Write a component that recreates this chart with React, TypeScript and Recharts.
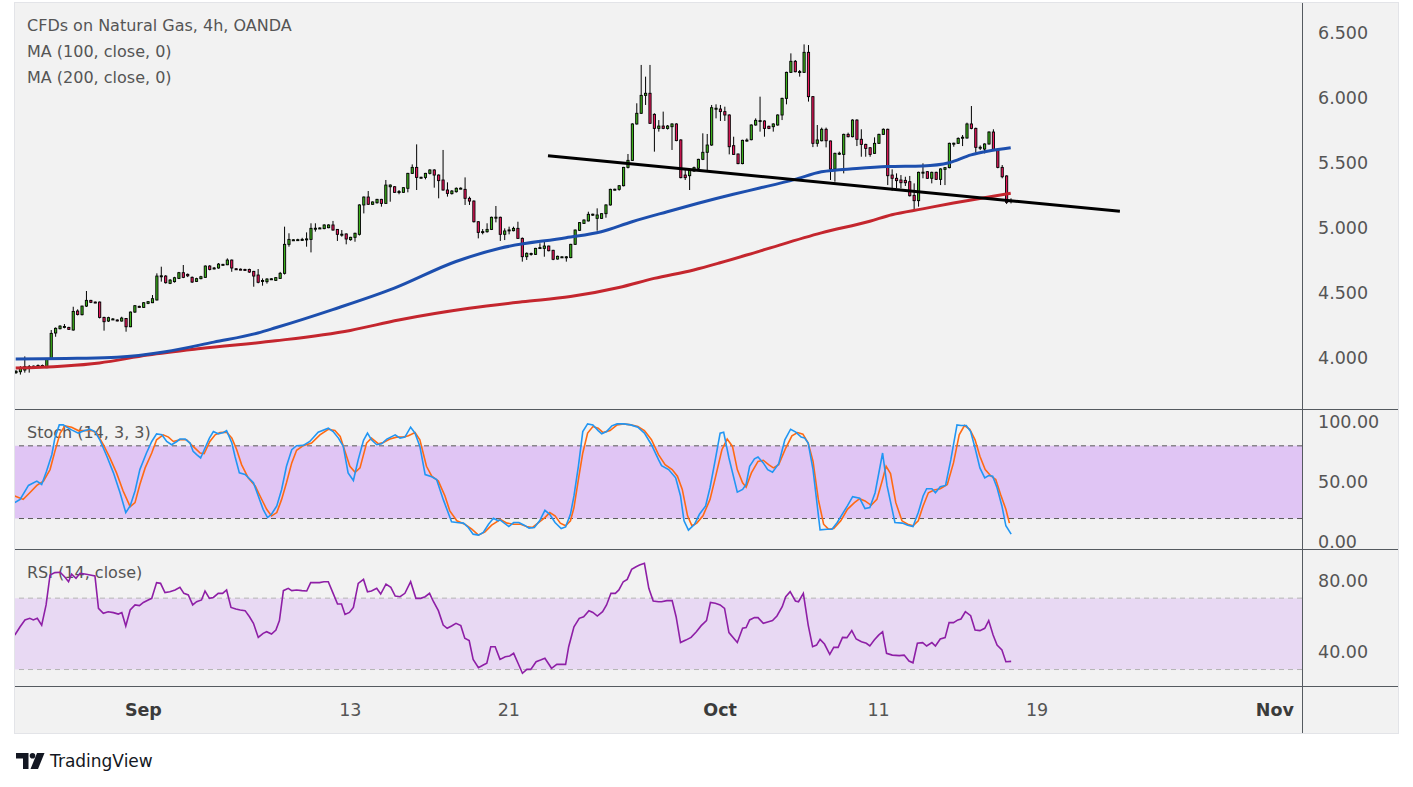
import React from 'react';
import { ComposedChart, Bar, Line, XAxis, YAxis, ReferenceLine, ReferenceArea } from 'recharts';

const X_MIN = 0.84;
const X_MAX = 293.16;
const PRICE_DOMAIN: [number, number] = [3.6054, 6.7285];
const STOCH_DOMAIN: [number, number] = [-5.16, 110.41];
const RSI_DOMAIN: [number, number] = [20.78, 97.54];

const priceTicks = [4, 4.5, 5, 5.5, 6, 6.5];
const stochTicks = [0, 50, 100];
const rsiTicks = [40, 80];
const dateTickIdx = [30, 77, 113, 161, 197, 233, 287];
const dateTickLabels = ['Sep', '13', '21', 'Oct', '11', '19', 'Nov'];
const monthLabels = ['Sep', 'Oct', 'Nov'];

const opens = [
  3.885, 3.892, 3.905, 3.928, 3.93, 3.933, 3.94, 3.923, 3.987, 4.19,
  4.223, 4.238, 4.233, 4.213, 4.359, 4.331, 4.397, 4.441, 4.428, 4.428,
  4.31, 4.282, 4.295, 4.29, 4.282, 4.302, 4.238, 4.351, 4.395, 4.387,
  4.418, 4.423, 4.444, 4.628, 4.628, 4.572, 4.585, 4.61, 4.654, 4.641,
  4.618, 4.587, 4.608, 4.618, 4.705, 4.688, 4.69, 4.716, 4.715, 4.751,
  4.684, 4.681, 4.679, 4.679, 4.664, 4.636, 4.592, 4.585, 4.603, 4.595,
  4.61, 4.649, 4.872, 4.903, 4.906, 4.908, 4.913, 4.91, 4.995, 4.996,
  4.993, 5.0, 5.021, 4.987, 4.949, 4.952, 4.908, 4.926, 4.949, 5.175,
  5.236, 5.18, 5.192, 5.218, 5.187, 5.315, 5.315, 5.276, 5.272, 5.303,
  5.418, 5.464, 5.386, 5.387, 5.418, 5.444, 5.405, 5.367, 5.29, 5.262,
  5.277, 5.302, 5.295, 5.226, 5.205, 5.046, 4.968, 4.969, 4.987, 5.079,
  5.08, 4.949, 4.981, 4.977, 4.995, 4.918, 4.777, 4.8, 4.795, 4.845,
  4.841, 4.859, 4.826, 4.759, 4.774, 4.775, 4.77, 4.872, 4.98, 5.033,
  5.052, 5.102, 5.072, 5.072, 5.108, 5.175, 5.294, 5.295, 5.323, 5.464,
  5.518, 5.798, 5.88, 6.018, 6.034, 5.872, 5.764, 5.782, 5.764, 5.777,
  5.798, 5.675, 5.405, 5.4, 5.436, 5.457, 5.526, 5.58, 5.636, 5.917,
  5.913, 5.893, 5.867, 5.631, 5.567, 5.493, 5.67, 5.677, 5.79, 5.822,
  5.821, 5.78, 5.777, 5.79, 5.867, 5.995, 6.195, 6.28, 6.199, 6.195,
  6.349, 6.008, 5.649, 5.669, 5.757, 5.667, 5.451, 5.571, 5.564, 5.718,
  5.7, 5.828, 5.68, 5.641, 5.615, 5.572, 5.649, 5.718, 5.757, 5.405,
  5.38, 5.367, 5.364, 5.354, 5.249, 5.208, 5.425, 5.431, 5.38, 5.426,
  5.372, 5.449, 5.462, 5.648, 5.649, 5.694, 5.69, 5.798, 5.764, 5.617,
  5.605, 5.644, 5.736, 5.598, 5.464, 5.398, 5.206,
];
const highs = [
  3.905, 3.935, 4.01, 3.944, 3.94, 3.948, 3.947, 3.99, 4.213, 4.233,
  4.25, 4.259, 4.238, 4.392, 4.372, 4.40, 4.513, 4.445, 4.432, 4.432,
  4.315, 4.315, 4.305, 4.295, 4.315, 4.305, 4.355, 4.405, 4.40, 4.428,
  4.436, 4.482, 4.649, 4.70, 4.635, 4.605, 4.622, 4.66, 4.713, 4.648,
  4.625, 4.615, 4.63, 4.71, 4.712, 4.698, 4.728, 4.722, 4.764, 4.755,
  4.69, 4.686, 4.684, 4.685, 4.668, 4.682, 4.61, 4.612, 4.612, 4.62,
  4.66, 5.008, 4.957, 4.912, 4.915, 4.922, 4.964, 5.034, 5.034, 5.003,
  5.026, 5.026, 5.052, 4.99, 4.982, 4.956, 4.93, 4.962, 5.18, 5.24,
  5.282, 5.202, 5.222, 5.222, 5.367, 5.333, 5.32, 5.29, 5.312, 5.422,
  5.487, 5.641, 5.392, 5.422, 5.45, 5.45, 5.41, 5.598, 5.349, 5.29,
  5.31, 5.31, 5.387, 5.239, 5.21, 5.05, 4.99, 5.034, 5.085, 5.167,
  5.085, 4.995, 5.008, 5.008, 5.046, 4.925, 4.81, 4.808, 4.845, 4.88,
  4.905, 4.862, 4.83, 4.785, 4.78, 4.782, 4.876, 4.986, 5.043, 5.064,
  5.123, 5.108, 5.149, 5.112, 5.18, 5.3, 5.3, 5.328, 5.468, 5.567,
  5.803, 5.957, 6.252, 6.162, 6.252, 5.88, 5.828, 5.893, 5.79, 5.803,
  5.803, 5.68, 5.444, 5.45, 5.47, 5.53, 5.726, 5.721, 5.944, 5.949,
  5.944, 5.931, 5.872, 5.7, 5.57, 5.677, 5.687, 5.795, 5.841, 6.008,
  5.826, 5.785, 5.803, 5.872, 6.0, 6.2, 6.341, 6.29, 6.213, 6.41,
  6.405, 6.013, 5.79, 5.77, 5.77, 5.67, 5.577, 5.585, 5.723, 5.731,
  5.834, 5.834, 5.757, 5.646, 5.62, 5.695, 5.723, 5.764, 5.762, 5.449,
  5.418, 5.405, 5.392, 5.398, 5.341, 5.431, 5.495, 5.436, 5.431, 5.431,
  5.457, 5.467, 5.654, 5.654, 5.695, 5.713, 5.808, 5.936, 5.77, 5.633,
  5.649, 5.741, 5.757, 5.603, 5.482, 5.403, 5.226,
];
const lows = [
  3.875, 3.87, 3.885, 3.885, 3.925, 3.928, 3.928, 3.92, 3.985, 4.161,
  4.218, 4.226, 4.215, 4.208, 4.325, 4.325, 4.39, 4.42, 4.42, 4.302,
  4.208, 4.275, 4.29, 4.28, 4.278, 4.2, 4.235, 4.345, 4.385, 4.383,
  4.412, 4.42, 4.44, 4.585, 4.57, 4.566, 4.578, 4.605, 4.612, 4.62,
  4.575, 4.582, 4.603, 4.615, 4.672, 4.68, 4.685, 4.712, 4.712, 4.661,
  4.676, 4.674, 4.672, 4.652, 4.546, 4.572, 4.554, 4.57, 4.598, 4.59,
  4.606, 4.64, 4.854, 4.898, 4.9, 4.9, 4.854, 4.81, 4.97, 4.99,
  4.988, 4.996, 4.978, 4.898, 4.931, 4.872, 4.9, 4.892, 4.94, 5.11,
  5.175, 5.175, 5.185, 5.162, 5.185, 5.2, 5.268, 5.257, 5.268, 5.272,
  5.413, 5.29, 5.38, 5.372, 5.41, 5.308, 5.226, 5.285, 5.239, 5.255,
  5.27, 5.296, 5.175, 5.175, 5.04, 4.918, 4.949, 4.962, 4.982, 5.041,
  4.898, 4.905, 4.949, 4.972, 4.915, 4.739, 4.752, 4.785, 4.79, 4.84,
  4.777, 4.818, 4.75, 4.755, 4.77, 4.739, 4.765, 4.868, 4.975, 5.03,
  5.048, 5.09, 4.977, 5.068, 5.077, 5.17, 5.288, 5.285, 5.318, 5.456,
  5.513, 5.793, 5.875, 5.944, 5.798, 5.585, 5.739, 5.758, 5.755, 5.598,
  5.665, 5.38, 5.367, 5.29, 5.43, 5.452, 5.52, 5.444, 5.63, 5.841,
  5.821, 5.821, 5.564, 5.56, 5.488, 5.488, 5.662, 5.672, 5.785, 5.739,
  5.7, 5.758, 5.739, 5.785, 5.828, 5.949, 6.19, 6.195, 6.162, 6.19,
  5.97, 5.62, 5.623, 5.664, 5.618, 5.367, 5.354, 5.559, 5.418, 5.695,
  5.695, 5.628, 5.546, 5.546, 5.546, 5.567, 5.644, 5.713, 5.328, 5.285,
  5.303, 5.303, 5.321, 5.24, 5.136, 5.162, 5.38, 5.375, 5.341, 5.367,
  5.328, 5.328, 5.457, 5.623, 5.644, 5.628, 5.685, 5.757, 5.577, 5.597,
  5.572, 5.639, 5.598, 5.457, 5.38, 5.182, 5.187,
];
const closes = [
  3.895, 3.918, 3.931, 3.932, 3.935, 3.94, 3.935, 3.987, 4.187, 4.226,
  4.243, 4.24, 4.218, 4.356, 4.333, 4.397, 4.441, 4.426, 4.425, 4.31,
  4.277, 4.308, 4.298, 4.288, 4.305, 4.238, 4.351, 4.4, 4.39, 4.423,
  4.431, 4.454, 4.628, 4.63, 4.577, 4.597, 4.615, 4.654, 4.618, 4.63,
  4.582, 4.608, 4.623, 4.705, 4.679, 4.69, 4.72, 4.718, 4.751, 4.69,
  4.682, 4.679, 4.676, 4.659, 4.628, 4.58, 4.594, 4.605, 4.607, 4.616,
  4.649, 4.872, 4.91, 4.907, 4.908, 4.91, 4.914, 4.995, 4.996, 4.998,
  5.021, 5.021, 4.982, 4.949, 4.95, 4.913, 4.926, 4.957, 5.175, 5.236,
  5.18, 5.198, 5.218, 5.187, 5.328, 5.328, 5.272, 5.278, 5.308, 5.418,
  5.464, 5.387, 5.388, 5.418, 5.444, 5.405, 5.362, 5.29, 5.264, 5.282,
  5.303, 5.304, 5.226, 5.205, 5.046, 4.964, 4.97, 4.987, 5.08, 5.081,
  4.949, 4.975, 4.983, 4.995, 4.918, 4.777, 4.803, 4.802, 4.841, 4.847,
  4.859, 4.823, 4.757, 4.78, 4.776, 4.776, 4.872, 4.982, 5.039, 5.059,
  5.103, 5.104, 5.098, 5.108, 5.175, 5.295, 5.296, 5.323, 5.464, 5.518,
  5.798, 5.88, 6.018, 6.034, 5.803, 5.764, 5.782, 5.764, 5.782, 5.798,
  5.67, 5.385, 5.385, 5.444, 5.462, 5.526, 5.58, 5.636, 5.923, 5.919,
  5.893, 5.867, 5.623, 5.564, 5.493, 5.672, 5.674, 5.79, 5.826, 5.824,
  5.764, 5.764, 5.798, 5.867, 5.995, 6.195, 6.28, 6.2, 6.201, 6.349,
  6.008, 5.649, 5.675, 5.757, 5.669, 5.451, 5.572, 5.573, 5.718, 5.7,
  5.828, 5.68, 5.641, 5.61, 5.564, 5.649, 5.718, 5.757, 5.4, 5.38,
  5.362, 5.346, 5.346, 5.246, 5.208, 5.426, 5.427, 5.38, 5.426, 5.372,
  5.452, 5.462, 5.649, 5.65, 5.687, 5.696, 5.798, 5.764, 5.618, 5.619,
  5.644, 5.736, 5.603, 5.464, 5.392, 5.195, 5.208,
];

const ma100: [number, number][] = [
  [1, 3.99], [15, 3.995], [24, 4.003], [35, 4.046], [46, 4.12], [56, 4.19], [60, 4.23],
  [73, 4.37], [87, 4.535], [101, 4.74], [111, 4.842], [126, 4.923], [134, 4.969],
  [141, 5.046], [149, 5.123], [156, 5.188], [164, 5.257], [170, 5.305], [178, 5.372],
  [184, 5.43], [192, 5.455], [199, 5.47], [207, 5.475], [213, 5.5], [218, 5.56],
  [222, 5.59], [227, 5.615],
];
const ma200: [number, number][] = [
  [1, 3.92], [20, 3.96], [31, 4.02], [43, 4.07], [60, 4.13], [77, 4.21], [88, 4.29],
  [104, 4.38], [116, 4.43], [127, 4.47], [138, 4.54], [146, 4.61], [155, 4.675],
  [161, 4.73], [170, 4.82], [184, 4.96], [195, 5.05], [200, 5.1], [207, 5.145],
  [214, 5.19], [220, 5.225], [227, 5.265],
];
const trendLine = [
  { x: 121.9, y: 5.554 },
  { x: 251.8, y: 5.126 },
];

const stochK: [number, number][] = [
  [0.8, 33.1], [2.0, 35.8], [3.9, 47.3], [5.8, 50.9], [6.9, 48.1], [8.0, 59.0], [9.2, 72.7], [9.9, 86.4],
  [10.9, 97.3], [11.8, 97.3], [12.6, 95.4], [13.7, 93.2], [15.2, 90.5], [16.7, 92.6], [17.9, 93.7],
  [19.0, 91.8], [20.1, 85.0], [21.7, 71.4], [23.2, 57.7], [24.7, 41.3], [26.0, 24.9], [27.0, 30.4],
  [28.1, 42.7], [29.2, 60.4], [30.7, 74.1], [31.9, 83.6], [33.0, 89.9], [34.2, 89.1], [35.3, 83.6],
  [36.4, 80.9], [37.6, 83.6], [38.3, 85.6], [39.5, 85.6], [40.6, 82.3], [41.3, 75.4], [42.1, 72.7],
  [43.0, 70.0], [44.0, 78.2], [45.0, 86.4], [45.9, 91.8], [47.0, 89.9], [48.2, 91.0], [48.9, 92.6],
  [50.1, 82.3], [50.8, 71.4], [51.8, 57.7], [53.1, 56.3], [55.0, 49.5], [56.1, 38.6], [57.2, 27.6],
  [58.2, 20.8], [59.1, 23.5], [60.3, 30.4], [61.4, 44.0], [62.5, 63.1], [63.7, 76.8], [64.8, 80.1],
  [66.3, 80.4], [67.8, 83.6], [69.7, 91.3], [72.0, 94.6], [73.1, 91.8], [74.3, 86.4], [75.4, 79.5],
  [76.5, 57.7], [77.7, 51.4], [78.8, 68.6], [80.0, 84.5], [80.9, 90.5], [81.8, 85.0], [83.0, 80.9],
  [84.1, 81.7], [85.3, 85.6], [87.2, 89.1], [88.3, 86.4], [89.4, 87.2], [90.7, 95.4], [91.7, 90.5],
  [92.8, 79.5], [94.0, 56.3], [95.5, 54.4], [96.6, 52.2], [98.1, 35.8], [100.0, 17.3], [101.2, 16.7],
  [102.7, 16.2], [103.8, 12.6], [104.9, 7.1], [106.1, 6.3], [107.2, 8.5], [108.4, 15.3], [109.5, 20.2],
  [110.6, 18.1],
  [111.0, 18.9], [113.0, 13.4], [114.1, 16.7], [115.3, 16.7], [116.5, 14.5], [117.6, 12.1], [118.8, 12.6],
  [120.0, 18.1], [121.2, 26.8], [122.3, 23.5], [123.5, 16.7], [124.9, 11.8], [125.9, 13.1], [127.0, 23.5],
  [127.8, 38.6], [128.8, 63.1], [129.8, 91.8], [130.9, 98.1], [132.1, 97.3], [133.3, 92.6], [134.1, 89.9],
  [135.2, 91.8], [136.4, 96.5], [137.6, 98.1], [139.1, 98.1], [140.7, 97.3], [142.3, 95.4], [143.8, 90.5],
  [145.4, 80.9], [147.0, 68.6], [147.7, 63.7], [149.3, 60.4], [150.9, 53.6], [152.0, 38.6], [152.8, 18.1],
  [153.8, 10.4], [155.2, 15.3], [156.3, 23.5], [157.7, 30.4], [158.7, 45.4], [159.9, 68.6], [161.0, 90.5],
  [161.8, 91.3], [163.0, 70.0], [164.9, 41.8], [166.1, 44.0], [166.9, 48.1], [167.7, 63.1], [168.8, 69.2],
  [169.6, 70.8], [170.8, 65.9], [171.8, 60.4], [172.9, 58.2], [174.3, 65.3], [175.7, 85.0], [177.0, 93.7],
  [178.2, 91.3], [179.4, 87.2], [180.2, 86.4], [181.0, 82.3], [182.1, 60.4], [183.7, 10.7], [185.3, 11.2],
  [186.4, 11.2], [187.6, 16.7], [189.2, 26.3], [189.9, 30.4], [191.1, 38.0], [192.7, 36.7], [193.9, 28.2],
  [195.0, 29.0], [196.2, 41.3], [197.9, 74.1], [198.9, 47.3], [200.7, 16.7], [202.4, 16.2], [203.6, 14.5],
  [204.8, 13.4], [206.0, 24.9], [207.1, 38.6], [207.9, 44.6], [209.1, 44.6], [209.9, 41.3], [211.0, 46.2],
  [212.2, 47.3], [213.4, 68.6], [214.8, 97.3], [215.7, 96.8], [216.9, 96.8], [217.9, 91.8], [218.9, 78.2],
  [220.0, 61.8], [221.1, 53.6], [222.0, 55.5], [222.9, 55.0], [223.9, 45.4], [225.0, 30.4], [225.9, 14.0],
  [227.1, 7.1],
];
const stochD: [number, number][] = [
  [0.8, 38.6], [2.7, 35.8], [4.2, 41.3], [5.8, 47.3], [7.3, 50.9], [8.8, 60.4], [9.9, 75.4], [11.1, 90.5],
  [12.2, 96.5], [13.7, 95.4], [15.2, 92.6], [16.7, 92.6], [18.3, 92.6], [19.4, 90.5], [20.9, 80.9],
  [22.4, 70.0], [23.9, 57.7], [25.4, 42.7], [27.0, 29.8], [28.1, 33.1], [29.2, 48.1], [30.4, 61.8],
  [31.9, 74.1], [33.0, 85.0], [34.5, 89.1], [35.7, 87.2], [36.8, 83.6], [38.3, 85.0], [39.8, 85.0],
  [41.3, 79.5], [42.9, 74.1], [43.8, 73.5], [45.1, 83.6], [46.3, 89.1], [47.4, 91.0], [48.9, 91.3],
  [50.1, 86.4], [51.2, 76.8], [52.3, 64.5], [53.8, 53.6], [55.4, 46.8], [56.5, 38.6], [58.0, 27.6],
  [59.1, 22.2], [60.3, 24.9], [61.4, 35.8], [62.5, 49.5], [63.7, 65.9], [64.8, 76.3], [66.3, 80.1],
  [68.2, 82.3], [70.1, 89.1], [72.0, 93.7], [73.5, 92.6], [74.7, 87.7], [75.8, 75.4], [76.9, 63.1],
  [78.1, 58.2], [79.2, 61.8], [80.7, 82.3], [81.8, 86.4], [83.4, 81.7], [84.5, 82.8], [86.0, 85.6],
  [87.5, 87.2], [89.0, 87.2], [90.2, 88.3], [91.7, 91.0], [92.8, 85.0], [94.3, 63.1], [95.5, 55.0],
  [97.0, 50.9], [98.5, 38.6], [99.6, 26.3], [101.2, 18.1], [103.0, 15.3], [104.6, 11.2], [106.1, 6.3],
  [107.6, 9.0], [109.1, 14.5], [110.6, 18.1],
  [111.0, 19.4], [112.6, 16.2], [114.1, 15.3], [115.7, 15.3], [117.3, 13.1], [118.4, 12.6], [119.6, 16.2],
  [121.2, 20.8], [122.3, 24.9], [123.5, 22.2], [124.7, 16.2], [125.9, 14.0], [127.0, 18.1], [127.8, 29.0],
  [128.8, 52.2], [129.8, 74.1], [130.9, 90.5], [132.1, 95.9], [133.3, 94.6], [134.4, 91.0], [136.0, 92.6],
  [137.6, 97.3], [139.1, 98.1], [140.7, 97.3], [142.3, 95.9], [143.8, 92.6], [145.4, 85.0], [147.0, 72.7],
  [148.5, 64.5], [150.1, 60.4], [151.3, 54.9], [152.4, 44.0], [153.6, 22.2], [154.6, 14.0], [155.7, 16.2],
  [157.1, 22.2], [158.7, 35.8], [159.9, 53.6], [161.4, 76.8], [162.6, 85.6], [163.8, 79.5], [164.9, 60.4],
  [166.1, 49.5], [166.9, 45.9], [168.1, 57.7], [169.6, 67.2], [170.8, 68.1], [172.0, 64.5], [173.1, 61.8],
  [174.3, 64.5], [175.9, 78.2], [177.3, 88.3], [178.6, 91.0], [179.8, 89.6], [181.0, 82.3], [182.1, 67.2],
  [183.3, 35.8], [184.5, 15.3], [185.6, 11.2], [186.8, 11.8], [188.4, 18.1], [189.9, 27.6], [191.5, 33.1],
  [192.7, 36.4], [193.9, 34.5], [195.3, 30.9], [196.6, 35.8], [197.8, 50.9], [198.7, 63.1], [199.7, 57.1],
  [200.9, 33.1], [202.3, 18.1], [203.6, 15.3], [204.8, 14.0], [206.0, 18.1], [207.1, 30.4], [208.3, 41.3],
  [209.6, 43.5], [211.0, 44.6], [212.6, 48.1], [214.0, 65.9], [215.3, 89.1], [216.5, 96.8], [217.7, 93.7],
  [218.9, 85.0], [220.0, 71.4], [221.2, 60.4], [222.4, 55.5], [223.6, 52.2], [224.7, 39.9], [225.9, 27.6],
  [226.7, 16.2],
];
const rsi: [number, number][] = [
  [0.8, 49.3], [2.0, 54.0], [3.1, 57.8], [4.2, 58.7], [5.0, 57.8], [5.9, 58.7], [6.9, 54.9], [7.9, 66.2],
  [8.8, 83.0], [9.9, 84.3], [11.1, 84.5], [12.2, 81.7], [13.0, 79.2], [13.7, 83.5], [14.7, 81.1],
  [15.6, 83.9], [16.7, 83.5], [17.9, 83.0], [19.0, 82.4], [19.8, 64.3], [20.9, 61.5], [22.0, 62.4],
  [23.2, 61.9], [24.3, 61.1], [25.1, 61.9], [26.0, 54.4], [27.0, 63.4], [28.1, 66.2], [29.1, 65.8],
  [30.0, 67.6], [31.1, 69.0], [31.9, 69.9], [33.0, 78.7], [33.9, 78.3], [34.9, 73.1], [36.0, 73.6],
  [37.2, 74.6], [38.3, 76.1], [39.2, 72.7], [40.2, 71.8], [41.2, 66.2], [42.1, 68.0], [43.2, 69.0],
  [44.0, 74.0], [45.0, 69.9], [45.9, 70.4], [47.0, 72.7], [48.0, 72.7], [48.9, 74.6], [49.9, 64.8],
  [51.0, 63.9], [52.0, 63.4], [53.1, 63.0], [54.1, 59.6], [55.0, 55.9], [56.1, 48.0], [57.2, 50.3],
  [58.0, 51.2], [59.1, 49.9], [60.1, 52.1], [60.9, 57.4], [61.8, 74.2], [62.9, 75.5], [63.7, 74.2],
  [64.8, 74.6], [66.0, 74.2], [67.1, 74.0], [68.0, 78.7], [69.0, 78.7], [70.0, 78.7], [71.0, 79.2],
  [72.0, 79.2], [73.1, 72.7], [74.1, 66.7], [75.0, 66.7], [75.8, 60.9], [76.8, 62.0], [77.7, 64.8],
  [78.8, 78.3], [80.0, 80.5], [80.9, 73.6], [81.8, 74.0], [83.0, 75.5], [83.9, 72.3], [85.1, 77.9],
  [86.2, 76.1], [87.2, 71.2], [88.3, 70.8], [89.4, 72.7], [90.7, 79.2], [91.9, 69.9], [93.0, 69.9],
  [94.0, 70.8], [95.0, 72.7], [95.9, 68.0], [97.0, 63.0], [98.1, 54.9], [99.0, 53.1], [100.0, 54.4],
  [101.0, 55.9], [102.1, 54.6], [103.0, 47.5], [104.0, 46.2], [104.9, 35.7], [106.1, 31.0], [107.2, 32.5],
  [108.0, 33.5], [108.9, 42.8], [109.9, 42.8],
  [111.0, 35.7], [112.2, 37.2], [113.2, 37.6], [114.1, 39.1], [115.1, 33.5], [116.1, 27.9], [117.1, 30.1],
  [118.0, 30.1], [119.2, 34.4], [120.2, 35.3], [121.2, 36.3], [122.7, 30.7], [123.9, 32.9], [125.9, 32.9],
  [126.6, 42.8], [127.8, 54.0], [129.0, 58.7], [130.0, 59.6], [131.2, 63.0], [132.1, 62.0], [133.1, 60.0],
  [134.3, 62.4], [135.2, 66.2], [136.2, 72.7], [137.2, 72.7], [138.0, 74.6], [139.0, 79.2], [139.9, 80.5],
  [140.9, 86.1], [141.9, 87.6], [142.7, 88.6], [143.8, 89.5], [144.8, 75.5], [145.8, 68.4], [147.0, 68.0],
  [147.7, 68.0], [148.9, 68.6], [150.1, 68.6], [151.0, 59.6], [152.0, 45.1], [153.2, 46.5], [154.4, 48.0],
  [155.6, 51.2], [156.7, 54.6], [157.9, 57.4], [158.8, 67.6], [159.9, 67.1], [161.0, 66.2], [162.0, 64.3],
  [163.0, 50.7], [164.9, 45.2], [166.1, 53.1], [166.9, 53.5], [167.7, 57.8], [168.8, 59.1], [169.6, 59.1],
  [170.8, 55.9], [172.0, 56.8], [172.9, 57.4], [173.9, 60.0], [175.1, 65.2], [175.9, 70.8], [176.9, 73.6],
  [178.1, 68.4], [178.8, 68.0], [179.9, 72.7], [181.0, 54.9], [182.0, 42.8], [182.9, 43.7], [183.7, 46.9],
  [184.7, 44.3], [185.9, 38.5], [186.8, 42.4], [187.8, 42.4], [188.8, 48.0], [189.8, 47.9], [190.9, 51.8],
  [191.9, 47.1], [193.1, 45.6], [194.2, 44.7], [195.0, 43.2], [196.0, 46.5], [197.0, 49.3], [197.9, 51.2],
  [198.8, 39.1], [200.1, 38.1], [201.7, 37.8], [202.8, 38.1], [203.9, 34.8], [204.8, 33.8], [205.8, 44.7],
  [207.0, 45.1], [207.9, 43.2], [209.1, 45.1], [209.9, 43.2], [211.0, 47.1], [212.1, 47.9], [213.0, 56.3],
  [214.0, 56.3], [215.0, 57.8], [215.7, 58.3], [216.7, 62.4], [217.9, 60.2], [218.9, 52.1], [220.0, 51.8],
  [221.1, 53.1], [222.0, 57.4], [223.0, 49.3], [223.9, 43.7], [225.0, 41.0], [225.9, 34.4], [227.1, 34.6],
];

const GREEN = '#3cb01c';
const RED = '#e8185c';
const FONT = '"DejaVu Sans", Verdana, sans-serif';
const TEXT = '#555555';
const SEP = '#555a60';

const priceRows: any[] = opens.map((o, k) => ({
  i: k + 1,
  open: o,
  high: highs[k],
  low: lows[k],
  close: closes[k],
  range: [lows[k], highs[k]],
}));
ma100.forEach(([i, v]) => { priceRows[i - 1].ma100 = v; });
ma200.forEach(([i, v]) => { priceRows[i - 1].ma200 = v; });

function merge(series: Record<string, [number, number][]>) {
  const map = new Map<number, any>();
  Object.entries(series).forEach(([key, pts]) => {
    pts.forEach(([x, v]) => {
      const row = map.get(x) ?? { i: x };
      row[key] = v;
      map.set(x, row);
    });
  });
  return Array.from(map.values()).sort((a, b) => a.i - b.i);
}
const stochRows = merge({ k: stochK, d: stochD });
const rsiRows = merge({ rsi });

function Candle(props: any) {
  const { x, y, width, height, payload } = props;
  if (!payload || x == null || y == null) return null;
  const top = Math.min(y, y + height);
  const bot = Math.max(y, y + height);
  const span = payload.high - payload.low;
  const ppu = span > 0 ? (bot - top) / span : 0;
  const cx = x + width / 2;
  const yO = top + (payload.high - payload.open) * ppu;
  const yC = top + (payload.high - payload.close) * ppu;
  const bt = Math.min(yO, yC);
  const bh = Math.max(Math.abs(yO - yC), 1);
  const up = payload.close >= payload.open;
  return (
    <g>
      <line x1={cx} x2={cx} y1={top} y2={bot} stroke="#000" strokeWidth={1} />
      <rect x={cx - 1.1} y={bt} width={2.2} height={bh} fill={up ? GREEN : RED} stroke="#000" strokeWidth={0.9} />
    </g>
  );
}

const makeYTick = (fmt: (v: number) => string) => (props: any) => (
  <text
    x={1303}
    y={props.payload.value === 0 ? props.y - 1.5 : props.y}
    dy="0.36em"
    fontSize={17.5}
    fill={TEXT}
    fontFamily={FONT}
    textAnchor="start"
  >
    {fmt(props.payload.value)}
  </text>
);
const PriceTick = makeYTick((v) => v.toFixed(3));
const IndTick = makeYTick((v) => v.toFixed(2));

const DateTick = (props: any) => {
  const idx = dateTickIdx.indexOf(props.payload.value);
  const label = dateTickLabels[idx] ?? '';
  const bold = monthLabels.includes(label);
  return (
    <text x={props.x} y={161} dy="0.36em" fontSize={17.5} fill={bold ? '#3b3b3b' : TEXT} fontWeight={bold ? 'bold' : 'normal'} fontFamily={FONT} textAnchor="middle">
      {label}
    </text>
  );
};

const CHART_W = 1383;
const AXIS_W = 96;
const noMargin = { top: 0, right: 0, bottom: 0, left: 0 };

const legendStyle: React.CSSProperties = {
  position: 'absolute',
  left: 27,
  fontFamily: FONT,
  fontSize: 16,
  lineHeight: '20px',
  color: TEXT,
  whiteSpace: 'nowrap',
};

export default function App() {
  return (
    <div style={{ position: 'absolute', left: 0, top: 0, width: 1413, height: 787, background: '#ffffff', fontFamily: FONT }}>
      <style>{'.recharts-surface { overflow: visible; }'}</style>
      <div style={{ position: 'absolute', left: 14, top: 2, width: 1385, height: 732, background: '#f2f2f2', border: '1px solid #e3e4e8', boxSizing: 'border-box' }} />

      <div style={{ ...legendStyle, top: 16 }}>CFDs on Natural Gas, 4h, OANDA</div>
      <div style={{ ...legendStyle, top: 42 }}>MA (100, close, 0)</div>
      <div style={{ ...legendStyle, top: 68 }}>MA (200, close, 0)</div>
      <div style={{ ...legendStyle, top: 423 }}>Stoch (14, 3, 3)</div>
      <div style={{ ...legendStyle, top: 563 }}>RSI (14, close)</div>

      <div style={{ position: 'absolute', left: 15, top: 3 }}>
        <ComposedChart width={CHART_W} height={406} data={priceRows} margin={noMargin}>
          <XAxis dataKey="i" type="number" domain={[X_MIN, X_MAX]} allowDataOverflow hide />
          <YAxis orientation="right" width={AXIS_W} domain={PRICE_DOMAIN} ticks={priceTicks} allowDataOverflow axisLine={false} tickLine={false} tick={PriceTick} interval={0} />
          <Bar dataKey="range" barSize={3} shape={(p: any) => <Candle {...p} />} isAnimationActive={false} />
          <Line dataKey="ma200" type="monotone" stroke="#c4262e" strokeWidth={3} dot={false} connectNulls isAnimationActive={false} />
          <Line dataKey="ma100" type="monotone" stroke="#1d4fae" strokeWidth={3} dot={false} connectNulls isAnimationActive={false} />
          <ReferenceLine segment={trendLine} stroke="#000" strokeWidth={3} ifOverflow="visible" />
        </ComposedChart>
      </div>

      <div style={{ position: 'absolute', left: 15, top: 409 }}>
        <ComposedChart width={CHART_W} height={140} data={stochRows} margin={noMargin}>
          <XAxis dataKey="i" type="number" domain={[X_MIN, X_MAX]} allowDataOverflow hide />
          <YAxis orientation="right" width={AXIS_W} domain={STOCH_DOMAIN} ticks={stochTicks} allowDataOverflow axisLine={false} tickLine={false} tick={IndTick} interval={0} />
          <ReferenceArea y1={20} y2={80} fill="#e0c5f4" fillOpacity={1} stroke="none" />
          <ReferenceLine y={80} stroke="#5a5a5a" strokeDasharray="5 4" strokeWidth={1} />
          <ReferenceLine y={20} stroke="#5a5a5a" strokeDasharray="5 4" strokeWidth={1} />
          <Line dataKey="d" type="linear" stroke="#ff6a13" strokeWidth={1.6} dot={false} connectNulls isAnimationActive={false} />
          <Line dataKey="k" type="linear" stroke="#2196f3" strokeWidth={1.6} dot={false} connectNulls isAnimationActive={false} />
        </ComposedChart>
      </div>

      <div style={{ position: 'absolute', left: 15, top: 549 }}>
        <ComposedChart width={CHART_W} height={184} data={rsiRows} margin={noMargin}>
          <XAxis dataKey="i" type="number" domain={[X_MIN, X_MAX]} allowDataOverflow ticks={dateTickIdx} interval={0} height={47} axisLine={false} tickLine={false} tick={DateTick} />
          <YAxis orientation="right" width={AXIS_W} domain={RSI_DOMAIN} ticks={rsiTicks} allowDataOverflow axisLine={false} tickLine={false} tick={IndTick} interval={0} />
          <ReferenceArea y1={30} y2={70} fill="#e8d9f3" fillOpacity={1} stroke="none" />
          <ReferenceLine y={70} stroke="#b4b4b4" strokeDasharray="5 4" strokeWidth={1} />
          <ReferenceLine y={30} stroke="#b4b4b4" strokeDasharray="5 4" strokeWidth={1} />
          <Line dataKey="rsi" type="linear" stroke="#8e1fa6" strokeWidth={1.6} dot={false} connectNulls isAnimationActive={false} />
        </ComposedChart>
      </div>

      <div style={{ position: 'absolute', left: 15, top: 409, width: 1383, height: 1, background: SEP }} />
      <div style={{ position: 'absolute', left: 15, top: 549, width: 1383, height: 1, background: SEP }} />
      <div style={{ position: 'absolute', left: 15, top: 686, width: 1383, height: 1, background: SEP }} />
      <div style={{ position: 'absolute', left: 1302, top: 3, width: 1, height: 730, background: SEP }} />

      <svg style={{ position: 'absolute', left: 0, top: 745 }} width={60} height={30}>
        <path d="M16 8 H28.5 V24 H23 V13.5 H16 Z" fill="#131722" />
        <circle cx={32.5} cy={10.8} r={2.8} fill="#131722" />
        <path d="M37 8 H44.5 L38 24 H30.5 Z" fill="#131722" />
      </svg>
      <div style={{ position: 'absolute', left: 50, top: 750, fontFamily: FONT, fontSize: 17, lineHeight: '22px', color: '#131722' }}>TradingView</div>
    </div>
  );
}
